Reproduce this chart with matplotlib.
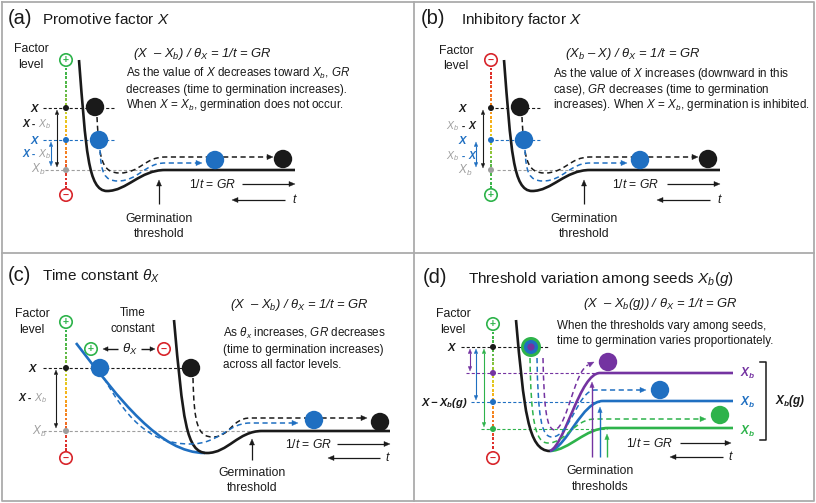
import numpy as np
import matplotlib
matplotlib.use("Agg")
import matplotlib.pyplot as plt
from matplotlib.path import Path
from matplotlib.patches import PathPatch, Circle, Polygon
from matplotlib.colors import LinearSegmentedColormap

plt.rcParams['font.family'] = ['Liberation Sans', 'DejaVu Sans']
plt.rcParams['mathtext.fontset'] = 'custom'
plt.rcParams['mathtext.rm'] = 'Liberation Sans'
plt.rcParams['mathtext.it'] = 'Liberation Sans:italic'
plt.rcParams['mathtext.bf'] = 'Liberation Sans:bold'
plt.rcParams['mathtext.bfit'] = 'Liberation Sans:bold:italic'
plt.rcParams['mathtext.sf'] = 'Liberation Sans'

# ---------------- colours ----------------
INK = "#1a1a1a"; BLUE = "#1f6fc1"; PURPLE = "#7433a1"; GREEN = "#2eb34b"
RED = "#d8262c"; GRAY = "#9e9e9e"; FRAME = "#ababab"

# ---------------- values (pixel units) ----------------
# panels (a) and (b) share geometry, (b) is shifted right
ab_dx = [0, 425]
ab_axis_x = 66
ab_axis_ends = [60, 195]
ab_levels = [108, 140, 170]          # X, lower X, Xb
ab_level_dash_x = [43, 115, 165]
ab_big_dots = [(95, 107, INK), (99, 140, BLUE), (215, 160, BLUE), (283, 159, INK)]
ab_curve = [('M', (79, 60)), ('C', (86, 150), (88, 191), (107, 191)),
            ('C', (127, 191), (140, 170), (165, 170)), ('L', (295, 170))]
ab_dash_black = [('M', (97, 117)), ('C', (99, 160), (102, 173), (120, 173)),
                 ('C', (140, 173), (145, 157), (165, 157)), ('L', (268, 157))]
ab_dash_black_tip = (273, 157)
ab_dash_blue = [('M', (100, 150)), ('C', (101, 172), (104, 181), (118, 181)),
                ('C', (138, 181), (145, 163), (165, 163)), ('L', (197, 163))]
ab_dash_blue_tip = (202, 163)

# panel (c)
c_axis_x = 66
c_axis_ends = [322, 458]
c_levels = [368, 431]
c_blue_curve = [('M', (76, 343)), ('C', (120, 400), (160, 453), (205, 453))]
c_black_curve = [('M', (174, 320)), ('C', (183, 420), (186, 453), (207, 453)),
                 ('C', (228, 453), (238, 431), (262, 431)), ('L', (390, 431))]
c_dash_black = [('M', (193, 378)), ('C', (194, 425), (198, 437), (213, 437)),
                ('C', (230, 437), (232, 418), (250, 418)), ('L', (362, 418))]
c_dash_black_tip = (367, 418)
c_dash_blue = [('M', (104, 378)), ('C', (130, 425), (155, 444), (190, 444)),
               ('C', (220, 444), (228, 423), (250, 423)), ('L', (293, 423))]
c_dash_blue_tip = (298, 423)
c_big_dots = [(100, 368, BLUE), (191, 368, INK), (314, 420, BLUE), (380, 422, INK)]

# panel (d)
d_axis_x = 493
d_axis_ends = [324, 458]
d_levels = [347, 373, 402, 429]      # X, purple, blue, green thresholds
d_level_colors = [INK, PURPLE, BLUE, GREEN]
d_level_dash_x0 = [461, 466, 471, 481]
d_level_dash_x1 = [548, 598, 601, 607]
d_black_curve = [('M', (516, 320)), ('C', (524, 410), (528, 451), (550, 451))]
d_seed_curves = {
    PURPLE: [('M', (550, 451)), ('C', (565, 445), (580, 373), (600, 373)), ('L', (733, 373))],
    BLUE:   [('M', (550, 451)), ('C', (567, 447), (582, 401), (603, 401)), ('L', (733, 401))],
    GREEN:  [('M', (550, 451)), ('C', (570, 450), (585, 428), (608, 428)), ('L', (733, 428))],
}
d_seed_dashes = {
    GREEN:  ([('M', (530, 358)), ('C', (531, 420), (535, 443), (548, 443)),
              ('C', (566, 443), (574, 419), (595, 419)), ('L', (700, 419))], (706, 419)),
    BLUE:   ([('M', (537, 358)), ('C', (538, 415), (541, 437), (552, 437)),
              ('C', (570, 437), (578, 390), (595, 390)), ('L', (640, 390))], (646, 390)),
    PURPLE: ([('M', (543, 358)), ('C', (544, 405), (546, 430), (555, 430)),
              ('C', (568, 425), (574, 372), (588, 365))], (594, 362)),
}
d_big_dots = [(608, 362, PURPLE), (660, 390, BLUE), (720, 415, GREEN)]
d_threshold_x = [592, 600, 607]
d_threshold_top = [382, 407, 434]
d_label_y = [377, 406, 435]

# text sizes
FS_BODY = 8.4
FS_LAB = 8.8
FS_EQ = 9.4

# ---------------- figure ----------------
fig = plt.figure(figsize=(8.16, 5.03), dpi=100)
ax = fig.add_axes([0, 0, 1, 1])
ax.set_xlim(0, 816)
ax.set_ylim(503, 0)
ax.axis("off")
R = fig.canvas.get_renderer()


def shift(segs, dx):
    out = []
    for s in segs:
        out.append((s[0],) + tuple((p[0] + dx, p[1]) for p in s[1:]))
    return out


def bez(segs, color, lw, dash=None, z=3):
    verts, codes = [], []
    for s in segs:
        if s[0] == 'M':
            verts.append(s[1]); codes.append(Path.MOVETO)
        elif s[0] == 'L':
            verts.append(s[1]); codes.append(Path.LINETO)
        else:
            verts += [s[1], s[2], s[3]]; codes += [Path.CURVE4] * 3
    ax.add_patch(PathPatch(Path(verts, codes), fill=False, ec=color, lw=lw,
                           ls=(0, dash) if dash else '-', capstyle='butt',
                           joinstyle='round', zorder=z))


def head(tip, frm, color, L=6.0, W=2.6, z=4):
    tip = np.array(tip, float); frm = np.array(frm, float)
    u = (tip - frm) / np.linalg.norm(tip - frm)
    n = np.array([-u[1], u[0]])
    base = tip - L * u
    ax.add_patch(Polygon([tip, base + W * n, base - W * n], closed=True,
                         fc=color, ec=color, lw=0.3, zorder=z))


def arrow(p0, p1, color=INK, lw=0.9, both=False, L=6.0, W=2.5):
    p0 = np.array(p0, float); p1 = np.array(p1, float)
    u = (p1 - p0) / np.linalg.norm(p1 - p0)
    a = p0 + (L * 0.8 * u if both else 0)
    b = p1 - L * 0.8 * u
    ax.plot([a[0], b[0]], [a[1], b[1]], color=color, lw=lw, solid_capstyle='butt', zorder=4)
    head(p1, p0, color, L, W)
    if both:
        head(p0, p1, color, L, W)


def ring(x, y, sign, color, r=6.2):
    ax.add_patch(Circle((x, y), r, fc='white', ec=color, lw=1.2, zorder=5))
    ax.text(x, y + 0.3, sign, color=color, fontsize=7.5, ha='center', va='center',
            fontweight='bold', zorder=6)


grad = LinearSegmentedColormap.from_list('g', [
    (0, '#2bb24c'), (0.25, '#62b947'), (0.38, '#c3d12b'), (0.48, '#f3c21a'),
    (0.62, '#f7941d'), (0.76, '#f06a24'), (0.86, '#e0312b'), (1, '#d7262b')])


def factor_axis(x, ytop, ybot, plus_top=True):
    ys = np.arange(ytop + 9, ybot - 7, 4.4)
    f = (ys - ytop) / (ybot - ytop)
    if not plus_top:
        f = 1 - f
    ax.scatter(np.full_like(ys, x), ys, s=3.8, marker='s', c=grad(f), lw=0, zorder=2)
    ring(x, ytop, '+' if plus_top else '−', GREEN if plus_top else RED)
    ring(x, ybot, '−' if plus_top else '+', RED if plus_top else GREEN)


def seq(x, y, pieces, ha='left', fs=8):
    arts = []
    cx = x
    for s, kw in pieces:
        kw = dict(kw)
        size = kw.pop('fs', fs)
        t = ax.text(cx, y, s, ha='left', va='baseline', fontsize=size, zorder=7, **kw)
        cx += t.get_window_extent(R).width
        arts.append(t)
    total = cx - x
    if ha != 'left':
        sh = total if ha == 'right' else total / 2
        for t in arts:
            t.set_x(t.get_position()[0] - sh)


def txt(x, y, s, ha='left', fs=8, **kw):
    kw.setdefault('color', INK)
    ax.text(x, y, s, ha=ha, va='baseline', fontsize=fs, zorder=7, **kw)


def hdash(y, x0, x1, color, lw=0.8):
    ax.plot([x0, x1], [y, y], color=color, lw=lw, ls=(0, (2.8, 1.9)), zorder=1)


def dot(x, y, color, r=3.0):
    ax.add_patch(Circle((x, y), r, fc=color, ec='none', zorder=6))


def big(x, y, color, r=9.2):
    ax.add_patch(Circle((x, y), r, fc=color, ec='none', zorder=6))


BI = dict(fontweight='bold', fontstyle='italic')

# ---------------- frame ----------------
ax.plot([2, 814, 814, 2, 2], [2, 2, 501, 501, 2], color=FRAME, lw=1.3, zorder=0)
ax.plot([414, 414], [2, 501], color=FRAME, lw=1.3, zorder=0)
ax.plot([2, 814], [253, 253], color=FRAME, lw=1.3, zorder=0)

# ---------------- panels (a) and (b) ----------------
for k, dx in enumerate(ab_dx):
    inhib = k == 1
    axx = ab_axis_x + dx
    x0 = ab_level_dash_x[0] + dx + (27 if inhib else 0)
    hdash(ab_levels[0], x0, ab_level_dash_x[1] + dx, INK)
    hdash(ab_levels[1], x0, ab_level_dash_x[1] + dx, BLUE)
    hdash(ab_levels[2], x0 + 2, ab_level_dash_x[2] + dx, GRAY)
    factor_axis(axx, ab_axis_ends[0], ab_axis_ends[1], plus_top=not inhib)
    dot(axx, ab_levels[0], INK); dot(axx, ab_levels[1], BLUE); dot(axx, ab_levels[2], GRAY)
    bez(shift(ab_curve, dx), INK, 1.9)
    bez(shift(ab_dash_black, dx), INK, 1.1, dash=(3.4, 2.3))
    head((ab_dash_black_tip[0] + dx, ab_dash_black_tip[1]), (ab_dash_black_tip[0] + dx - 10, ab_dash_black_tip[1]), INK)
    bez(shift(ab_dash_blue, dx), BLUE, 1.1, dash=(3.4, 2.3))
    head((ab_dash_blue_tip[0] + dx, ab_dash_blue_tip[1]), (ab_dash_blue_tip[0] + dx - 10, ab_dash_blue_tip[1]), BLUE)
    for (x, y, c) in ab_big_dots:
        big(x + dx, y, c)
    # GR / t arrows and threshold
    txt(189 + dx - (2 if inhib else 0), 188, r'$1/t$ = $GR$', fs=8.7)
    arrow((242 + dx, 184), (295 + dx, 184), lw=0.9)
    arrow((285 + dx, 200), (232 + dx, 200), lw=0.9)
    txt(292 + dx, 203, r'$t$', fs=8.7)
    arrow((159 + dx, 204), (159 + dx, 180), lw=0.9)
    txt(159 + dx, 222, 'Germination', ha='center', fs=FS_LAB)
    txt(159 + dx, 237, 'threshold', ha='center', fs=FS_LAB)

# double arrows a
arrow((57, 110), (57, 167), both=True, lw=0.8, L=4.5, W=1.8)
arrow((51, 142), (51, 166), color=BLUE, both=True, lw=0.8, L=4.5, W=1.8)
# double arrows b
arrow((483, 110), (483, 168), both=True, lw=0.8, L=4.5, W=1.8)
arrow((476, 142), (476, 167), color=BLUE, both=True, lw=0.8, L=4.5, W=1.8)

# titles
txt(8, 24, '(a)', fs=14.5)
txt(42, 24, r'Promotive factor $X$', fs=11)
txt(421, 24, '(b)', fs=14.5)
txt(461, 24, r'Inhibitory factor $X$', fs=11)

# factor level labels a/b
txt(31, 52, 'Factor', ha='center', fs=FS_LAB)
txt(31, 68, 'level', ha='center', fs=FS_LAB)
txt(456, 54, 'Factor', ha='center', fs=FS_LAB)
txt(456, 69, 'level', ha='center', fs=FS_LAB)

# equations and descriptions a
txt(133, 57, r'(X  – $X_b$) / $\theta_X$ = 1/t = GR', fs=FS_EQ, fontstyle='italic')
txt(126, 77, r'As the value of $X$ decreases toward $X_b$, $GR$', fs=FS_BODY)
txt(126, 93, 'decreases (time to germination increases).', fs=FS_BODY)
txt(126, 108, r'When $X$ = $X_b$, germination does not occur.', fs=FS_BODY)
# b
txt(565, 57, r'($X_b$ – X) / $\theta_X$ = 1/t = GR', fs=FS_EQ, fontstyle='italic')
txt(553, 77, r'As the value of $X$ increases (downward in this', fs=FS_BODY)
txt(553, 93, r'case), $GR$ decreases (time to germination', fs=FS_BODY)
txt(553, 108, r'increases). When $X$ = $X_b$, germination is inhibited.', fs=FS_BODY)

# level labels a
seq(38, 112, [('X', dict(color=INK, **BI))], ha='right')
seq(22, 127, [('X', dict(color=INK, **BI)), (' - ', dict(color=INK, fontweight='bold')),
              (r'$X_b$', dict(color=GRAY))], fs=7.5)
seq(38, 144, [('X', dict(color=BLUE, **BI))], ha='right')
seq(22, 157, [('X', dict(color=BLUE, **BI)), (' - ', dict(color=BLUE, fontweight='bold')),
              (r'$X_b$', dict(color=GRAY))], fs=7.5)
seq(31, 173, [(r'$X_b$', dict(color=GRAY))], fs=8.5)
# level labels b
seq(466, 112, [('X', dict(color=INK, **BI))], ha='right')
seq(446, 129, [(r'$X_b$', dict(color=GRAY)), (' - ', dict(color=INK, fontweight='bold')),
               ('X', dict(color=INK, **BI))], fs=7.5)
seq(466, 144, [('X', dict(color=BLUE, **BI))], ha='right')
seq(446, 159, [(r'$X_b$', dict(color=GRAY)), (' - ', dict(color=BLUE, fontweight='bold')),
               ('X', dict(color=BLUE, **BI))], fs=7.5)
seq(458, 174, [(r'$X_b$', dict(color=GRAY))], fs=8.5)

# ---------------- panel (c) ----------------
hdash(c_levels[0], 43, 182, INK)
hdash(c_levels[1], 43, 262, GRAY)
factor_axis(c_axis_x, c_axis_ends[0], c_axis_ends[1], plus_top=True)
dot(c_axis_x, c_levels[0], INK); dot(c_axis_x, c_levels[1], GRAY)
bez(c_blue_curve, BLUE, 1.9)
bez(c_black_curve, INK, 1.9)
bez(c_dash_black, INK, 1.1, dash=(3.4, 2.3))
head(c_dash_black_tip, (c_dash_black_tip[0] - 10, c_dash_black_tip[1]), INK)
bez(c_dash_blue, BLUE, 1.1, dash=(3.4, 2.3))
head(c_dash_blue_tip, (c_dash_blue_tip[0] - 10, c_dash_blue_tip[1]), BLUE)
for (x, y, c) in c_big_dots:
    big(x, y, c)
arrow((56, 370), (56, 428), both=True, lw=0.8, L=4.5, W=1.8)
txt(8, 281, '(c)', fs=14.5)
txt(42, 281, r'Time constant $\theta_X$', fs=11)
txt(32, 317, 'Factor', ha='center', fs=FS_LAB)
txt(32, 333, 'level', ha='center', fs=FS_LAB)
txt(133, 316, 'Time', ha='center', fs=8.5)
txt(133, 332, 'constant', ha='center', fs=8.5)
ring(91, 349, '+', GREEN)
ring(164, 349, '−', RED)
arrow((118, 349), (103, 349), lw=1.0, L=5, W=2.3)
arrow((141, 349), (155, 349), lw=1.0, L=5, W=2.3)
txt(130, 353, r'$\theta_X$', ha='center', fs=9.5)
txt(230, 308, r'(X  – $X_b$) / $\theta_X$ = 1/t = GR', fs=FS_EQ, fontstyle='italic')
txt(223, 337, r'As $\theta_x$ increases, $GR$ decreases', fs=FS_BODY)
txt(223, 353, '(time to germination increases)', fs=FS_BODY)
txt(223, 368, 'across all factor levels.', fs=FS_BODY)
seq(36, 372, [('X', dict(color=INK, **BI))], ha='right')
seq(18, 401, [('X', dict(color=INK, **BI)), (' - ', dict(color=INK, fontweight='bold')),
              (r'$X_b$', dict(color=GRAY))], fs=7.5)
seq(32, 435, [(r'$X_b$', dict(color=GRAY))], fs=8.5)
txt(285, 448, r'$1/t$ = $GR$', fs=8.7)
arrow((337, 444), (390, 444), lw=0.9)
arrow((380, 458), (328, 458), lw=0.9)
txt(385, 461, r'$t$', fs=8.7)
arrow((252, 460), (252, 439), lw=0.9)
txt(252, 476, 'Germination', ha='center', fs=FS_LAB)
txt(252, 491, 'threshold', ha='center', fs=FS_LAB)

# ---------------- panel (d) ----------------
for y, c, x0, x1 in zip(d_levels, d_level_colors, d_level_dash_x0, d_level_dash_x1):
    hdash(y, x0, x1, c)
factor_axis(d_axis_x, d_axis_ends[0], d_axis_ends[1], plus_top=True)
for y, c in zip(d_levels, d_level_colors):
    dot(d_axis_x, y, c)
bez(d_black_curve, INK, 1.9)
for c in [GREEN, BLUE, PURPLE]:
    bez(d_seed_curves[c], c, 1.9)
for c in [GREEN, BLUE, PURPLE]:
    segs, tip = d_seed_dashes[c]
    bez(segs, c, 1.1, dash=(3.4, 2.3))
    last = segs[-1]
    head(tip, last[-1] if last[0] == 'C' else (tip[0] - 10, tip[1]), c)
for (x, y, c) in d_big_dots:
    big(x, y, c)
ax.add_patch(Circle((531, 347), 10, fc=GREEN, ec='none', zorder=6))
ax.add_patch(Circle((531, 347), 7, fc=BLUE, ec='none', zorder=6))
ax.add_patch(Circle((531, 347), 3.6, fc=PURPLE, ec='none', zorder=6))
for x, top, c in zip(d_threshold_x, d_threshold_top, [PURPLE, BLUE, GREEN]):
    arrow((x, 457), (x, top), color=c, lw=1.0, L=5.5, W=2.2)
for xa, y, c in zip([470, 476, 484], d_levels[1:], [PURPLE, BLUE, GREEN]):
    arrow((xa, 349), (xa, y - 2), color=c, both=True, lw=0.8, L=4.5, W=1.8)
for y, c in zip(d_label_y, [PURPLE, BLUE, GREEN]):
    txt(740, y, r'$\mathbfit{X_b}$', fs=8.5, color=c)
ax.plot([760, 766, 766, 760], [362, 362, 440, 440], color=INK, lw=1.1)
txt(775, 404, r'$\mathbfit{X_b(g)}$', fs=8.5)
txt(423, 283, '(d)', fs=14.5)
txt(468, 283, r'Threshold variation among seeds $X_b(g)$', fs=11)
txt(583, 307, r'(X  – $X_b$(g)) / $\theta_X$ = 1/t = GR', fs=FS_EQ, fontstyle='italic')
txt(557, 329, 'When the thresholds vary among seeds,', fs=FS_BODY)
txt(557, 344, 'time to germination varies proportionately.', fs=FS_BODY)
txt(453, 317, 'Factor', ha='center', fs=FS_LAB)
txt(453, 333, 'level', ha='center', fs=FS_LAB)
seq(455, 351, [('X', dict(color=INK, **BI))], ha='right')
txt(421, 406, r'$\mathbfit{X - X_b(g)}$', fs=8)
txt(626, 447, r'$1/t$ = $GR$', fs=8.7)
arrow((680, 443), (731, 443), lw=0.9)
arrow((723, 457), (670, 457), lw=0.9)
txt(728, 460, r'$t$', fs=8.7)
txt(600, 474, 'Germination', ha='center', fs=FS_LAB)
txt(600, 490, 'thresholds', ha='center', fs=FS_LAB)

fig.savefig("out.png", dpi=100)
